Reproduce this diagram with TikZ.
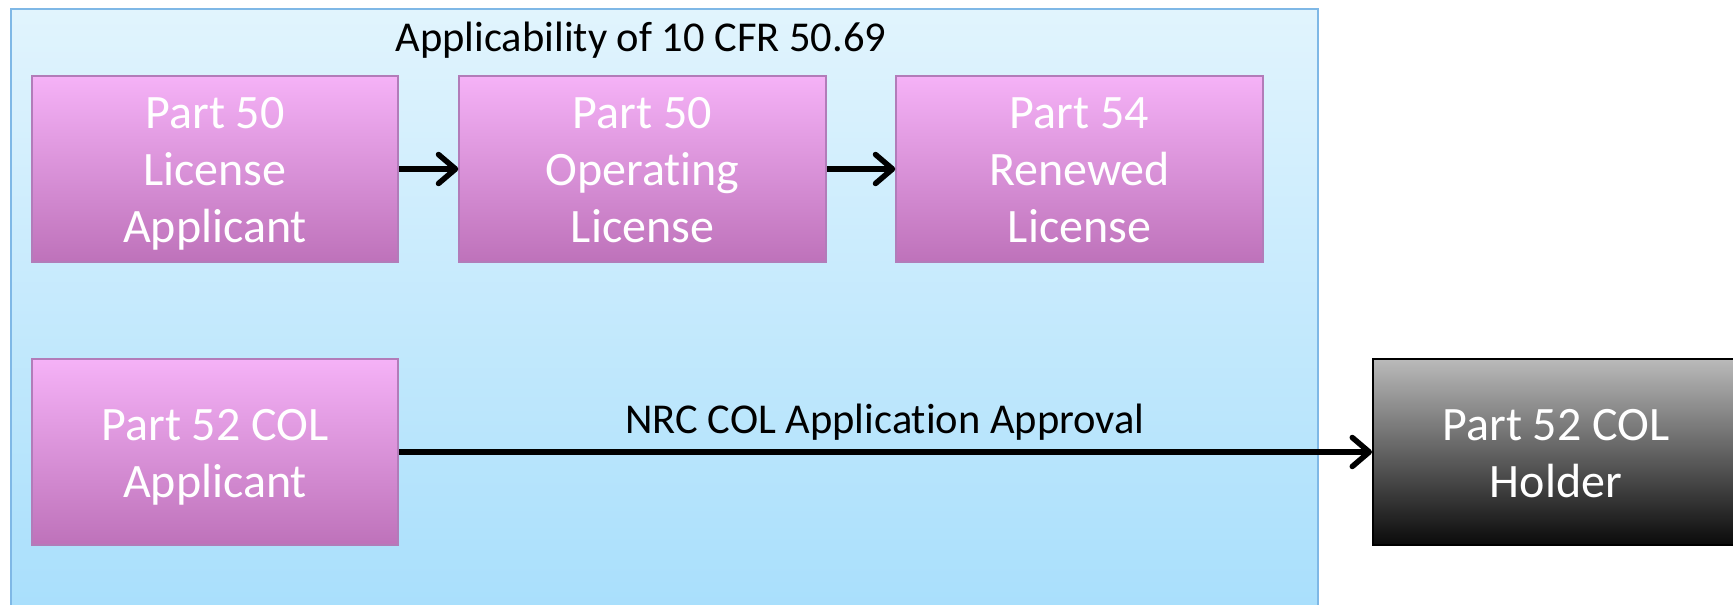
\documentclass[tikz,border=0pt]{standalone}
\usepackage{fontspec}
\setmainfont{Carlito}[Ligatures=NoCommon]
\usetikzlibrary{arrows.meta}
\definecolor{bgtop}{HTML}{E1F4FD}
\definecolor{bgbot}{HTML}{A6DEFC}
\definecolor{bgedge}{HTML}{7FB8E6}
\definecolor{pktop}{HTML}{F5B2F7}
\definecolor{pkbot}{HTML}{BE72BA}
\definecolor{pkedge}{HTML}{B27CB9}
\definecolor{gytop}{HTML}{BABABA}
\definecolor{gybot}{HTML}{0A0A0A}
\newcommand{\topstrut}{\rule{0pt}{45.5pt}}
\newcommand{\botstrut}{\rule[-12pt]{0pt}{12pt}}
\tikzset{
  pinkbox/.style={rectangle, draw=pkedge, line width=1.5pt, top color=pktop, bottom color=pkbot,
    minimum width=366pt, minimum height=186pt, inner sep=0pt, align=center, text=white,
    font=\fontsize{48}{57}\selectfont},
  graybox/.style={rectangle, draw=black, line width=2pt, top color=gytop, bottom color=gybot,
    minimum width=366pt, minimum height=186pt, inner sep=0pt},
  boxtext/.style={inner sep=0pt, align=center, text=white, font=\fontsize{48}{57}\selectfont},
  flow/.style={line width=5.5pt, draw=black, -{Straight Barb[length=17pt,width=29pt,round]}},
  lbl/.style={font=\fontsize{42.5}{50}\selectfont, text=black, inner sep=0pt, anchor=base}
}
\begin{document}
\begin{tikzpicture}[x=1pt,y=-1pt]
\clip (0,0) rectangle (1733,605);
\draw[bgedge, line width=2pt, top color=bgtop, bottom color=bgbot] (11,9) rectangle (1318,640);
\node[lbl] (title) at (641,51.5) {Applicability of 10 CFR 50.69};
\node[pinkbox] (a) at (215,169) {\topstrut Part 50\\License\\Applicant\botstrut};
\node[pinkbox, minimum width=367pt] (b) at (642.5,169) {\topstrut Part 50\\Operating\\License\botstrut};
\node[pinkbox, minimum width=367pt] (c) at (1079.5,169) {\topstrut Part 54\\Renewed\\License\botstrut};
\node[pinkbox] (d) at (215,452) {\topstrut Part 52 COL\\Applicant\botstrut};
\node[graybox, minimum width=400pt] (e) at (1573,452) {};
\node[boxtext] (et) at (1556,452) {\topstrut Part 52 COL\\Holder\botstrut};
\draw[flow] (a.east) -- (b.west);
\draw[flow] (b.east) -- (c.west);
\draw[flow] (d.east) -- (e.west);
\node[lbl] (al) at (885,433) {NRC COL Application Approval};
\end{tikzpicture}
\end{document}
